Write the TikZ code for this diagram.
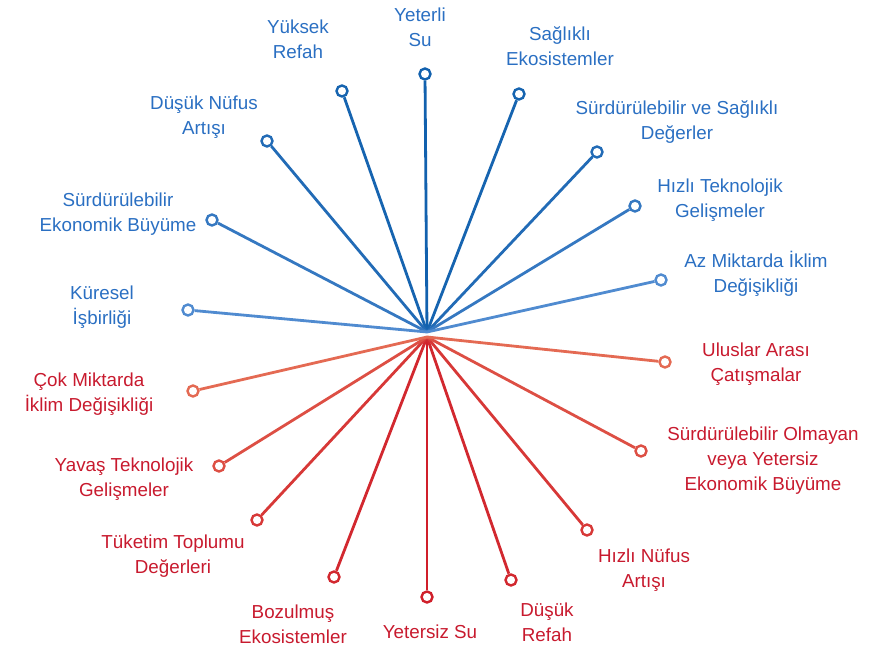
\documentclass[tikz,border=0pt]{standalone}
\usepackage{fontspec}
\setmainfont{Liberation Sans}
\definecolor{bluedark}{HTML}{1261AE}
\definecolor{bluelight}{HTML}{6095D8}
\definecolor{reddark}{HTML}{D01F2A}
\definecolor{redlight}{HTML}{E8775A}
\definecolor{bluetext}{HTML}{2A6FC2}
\definecolor{redtext}{HTML}{C81A2E}
\begin{document}
\begin{tikzpicture}[x=1pt, y=-1pt,
    tip/.style={circle, draw, line width=2.4pt, fill=white, inner sep=0pt, minimum size=11pt},
    spoke/.style={line width=2.8pt},
    goodlabel/.style={align=center, text=bluetext, font=\fontsize{18.8}{25}\selectfont},
    badlabel/.style={align=center, text=redtext, font=\fontsize{18.8}{25}\selectfont}]
        \useasboundingbox (0,0) rectangle (876,647);
        \coordinate (hubgood) at (427,332);
        \coordinate (hubbad) at (427,337);

        % positive futures
        \node (suE) [tip, draw=bluedark] at (425,74) {};
        \node (refahE) [tip, draw=bluedark!95!bluelight] at (342,91) {};
        \node (ekoE) [tip, draw=bluedark!95!bluelight] at (519,94) {};
        \node (nufusE) [tip, draw=bluedark!80!bluelight] at (267,141) {};
        \node (degerE) [tip, draw=bluedark!80!bluelight] at (597,152) {};
        \node (buyumeE) [tip, draw=bluedark!55!bluelight] at (212,220) {};
        \node (teknoE) [tip, draw=bluedark!55!bluelight] at (635,206) {};
        \node (isbirE) [tip, draw=bluedark!20!bluelight] at (188,310) {};
        \node (iklimE) [tip, draw=bluedark!20!bluelight] at (661,280) {};

        \node (su) [goodlabel] at (420,27) {Yeterli\\Su};
        \node (refah) [goodlabel] at (298,39) {Yüksek\\Refah};
        \node (eko) [goodlabel] at (560,46) {Sağlıklı\\Ekosistemler};
        \node (nufus) [goodlabel] at (204,117) {Düşük Nüfus\\Artışı};
        \node (deger) [goodlabel] at (677,122) {Sürdürülebilir ve Sağlıklı\\Değerler};
        \node (buyume) [goodlabel] at (118,214) {Sürdürülebilir\\Ekonomik Büyüme};
        \node (tekno) [goodlabel] at (720,200) {Hızlı Teknolojik\\Gelişmeler};
        \node (isbir) [goodlabel] at (102,307) {Küresel\\İşbirliği};
        \node (iklim) [goodlabel] at (756,274) {Az Miktarda İklim\\Değişikliği};

        % negative futures
        \node (suK) [tip, draw=reddark] at (427,597) {};
        \node (ekoK) [tip, draw=reddark!90!redlight] at (334,577) {};
        \node (refahK) [tip, draw=reddark!90!redlight] at (511,580) {};
        \node (degerK) [tip, draw=reddark!72!redlight] at (257,520) {};
        \node (nufusK) [tip, draw=reddark!72!redlight] at (587,530) {};
        \node (teknoK) [tip, draw=reddark!45!redlight] at (219,466) {};
        \node (buyumeK) [tip, draw=reddark!45!redlight] at (641,451) {};
        \node (iklimK) [tip, draw=reddark!15!redlight] at (193,391) {};
        \node (catismaK) [tip, draw=reddark!15!redlight] at (665,362) {};

        \node (yetersiz) [badlabel] at (430,632) {Yetersiz Su};
        \node (bozulmus) [badlabel] at (293,624) {Bozulmuş\\Ekosistemler};
        \node (dusukref) [badlabel] at (547,622) {Düşük\\Refah};
        \node (tuketim) [badlabel] at (173,556) {Tüketim Toplumu\\Değerleri};
        \node (hizlinuf) [badlabel] at (644,570) {Hızlı Nüfus\\Artışı};
        \node (yavas) [badlabel] at (124,479) {Yavaş Teknolojik\\Gelişmeler};
        \node (olmayan) [badlabel] at (763,461) {Sürdürülebilir Olmayan\\veya Yetersiz\\Ekonomik Büyüme};
        \node (cok) [badlabel] at (89,394) {Çok Miktarda\\İklim Değişikliği};
        \node (catisma) [badlabel] at (756,364) {Uluslar Arası\\Çatışmalar};

        \draw[spoke, bluedark] (hubgood) -- (suE);
        \draw[spoke, bluedark!95!bluelight] (hubgood) -- (refahE);
        \draw[spoke, bluedark!95!bluelight] (hubgood) -- (ekoE);
        \draw[spoke, bluedark!80!bluelight] (hubgood) -- (nufusE);
        \draw[spoke, bluedark!80!bluelight] (hubgood) -- (degerE);
        \draw[spoke, bluedark!55!bluelight] (hubgood) -- (buyumeE);
        \draw[spoke, bluedark!55!bluelight] (hubgood) -- (teknoE);
        \draw[spoke, bluedark!20!bluelight] (hubgood) -- (isbirE);
        \draw[spoke, bluedark!20!bluelight] (hubgood) -- (iklimE);

        \draw[spoke, reddark] (hubbad) -- (suK);
        \draw[spoke, reddark!90!redlight] (hubbad) -- (ekoK);
        \draw[spoke, reddark!90!redlight] (hubbad) -- (refahK);
        \draw[spoke, reddark!72!redlight] (hubbad) -- (degerK);
        \draw[spoke, reddark!72!redlight] (hubbad) -- (nufusK);
        \draw[spoke, reddark!45!redlight] (hubbad) -- (teknoK);
        \draw[spoke, reddark!45!redlight] (hubbad) -- (buyumeK);
        \draw[spoke, reddark!15!redlight] (hubbad) -- (iklimK);
        \draw[spoke, reddark!15!redlight] (hubbad) -- (catismaK);
    \end{tikzpicture}
\end{document}
